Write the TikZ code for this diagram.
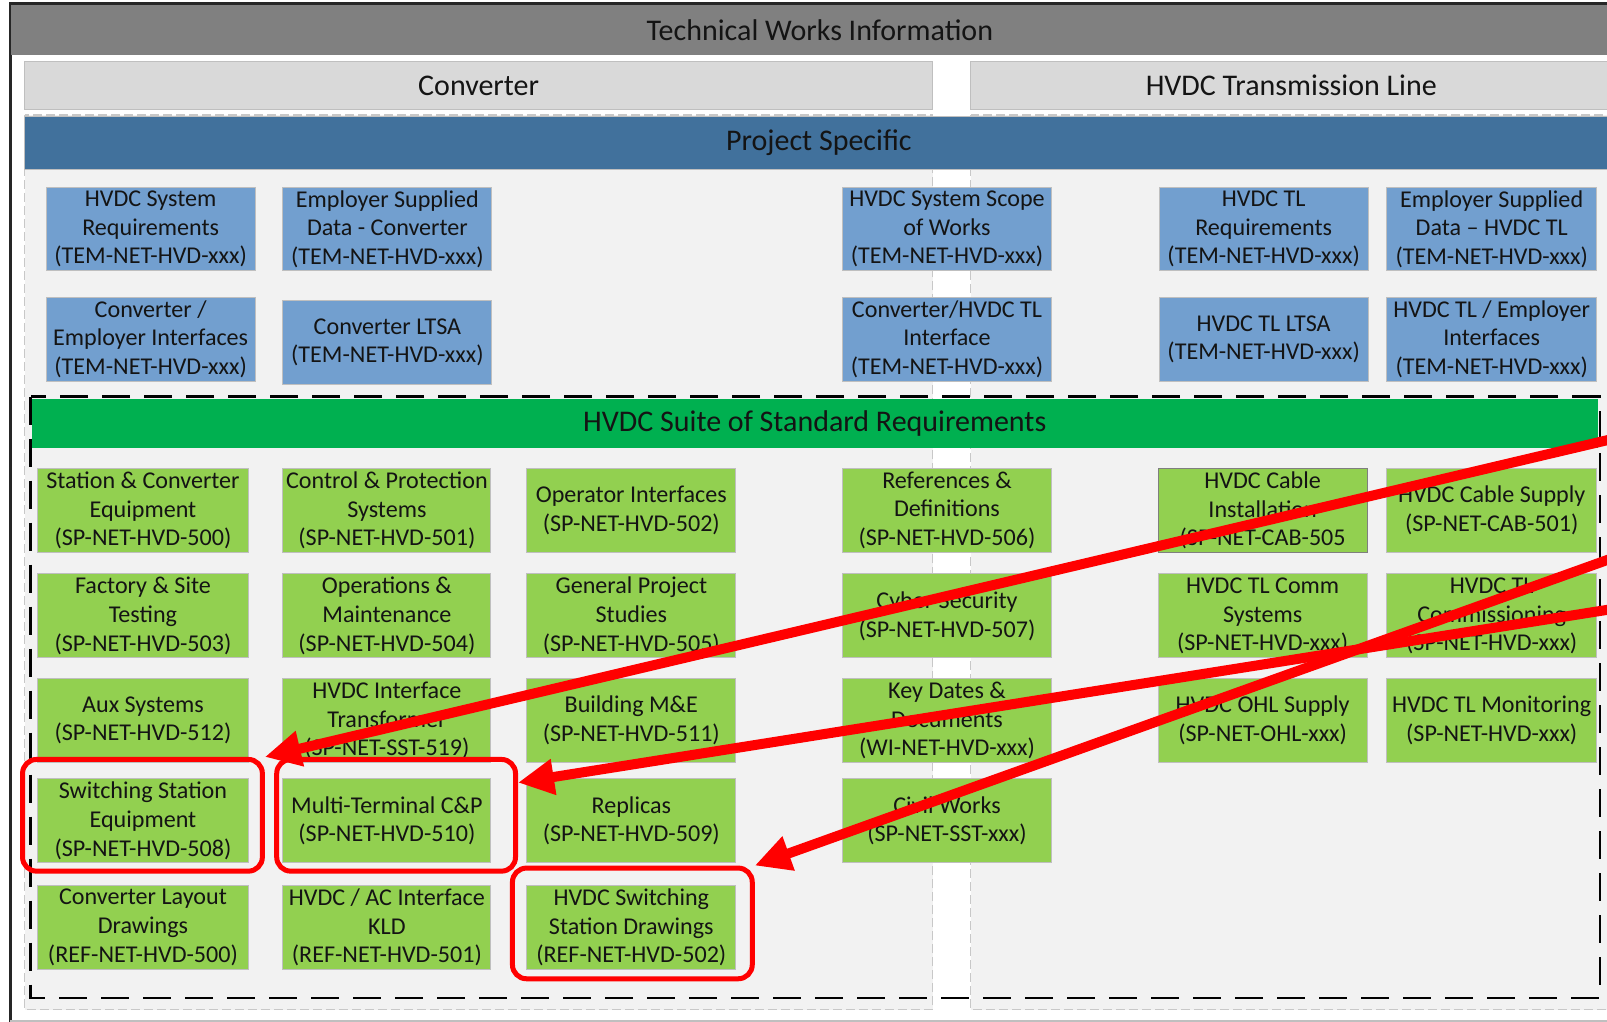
\documentclass[tikz,border=0pt]{standalone}
\usepackage{fontspec}
\setmainfont{Carlito}
\usetikzlibrary{arrows.meta,calc}

\definecolor{framecol}{HTML}{262626}
\definecolor{tbgray}{HTML}{808080}
\definecolor{hdrgray}{HTML}{D9D9D9}
\definecolor{panelgray}{HTML}{F2F2F2}
\definecolor{paneledge}{HTML}{C8C8C8}
\definecolor{psblue}{HTML}{41719C}
\definecolor{pbox}{HTML}{729FCF}
\definecolor{suitegreen}{HTML}{00B050}
\definecolor{gbox}{HTML}{92D050}
\definecolor{boxline}{HTML}{BFBFBF}
\definecolor{darkline}{HTML}{7F7F7F}
\definecolor{txt}{HTML}{141414}
\definecolor{mark}{HTML}{FF0000}

\begin{document}
\begin{tikzpicture}[x=1.0249pt,y=-1.0249pt,
  % a node placed over the rectangle with corners (#1,#2) and (#3,#4)
  spot/.style n args={4}{at={($(#1,#2)!0.5!(#3,#4)$)},
    minimum width={(#3-#1)*1.0249pt}, minimum height={(#4-#2)*1.0249pt}},
  cell/.style={draw=boxline, line width=1pt, inner sep=0pt, align=center, text=txt,
    font={\fontsize{24.1pt}{28.7pt}\selectfont}},
  bluecell/.style={cell, fill=pbox},
  greencell/.style={cell, fill=gbox},
  band/.style={inner sep=0pt, align=center, text=txt,
    font={\fontsize{30pt}{35pt}\selectfont}},
  panel/.style={fill=panelgray, draw=paneledge, line width=1.5pt, dash pattern=on 9pt off 4pt},
  hilite/.style={draw=mark, line width=5pt, rounded corners=14pt, inner sep=0pt},
  pointer/.style={draw=mark, line width=10pt, -{Triangle[length=36pt,width=34pt]}}
]
\useasboundingbox (0,0) rectangle (1568,997);
\fill[white] (0,0) rectangle (1568,997);

% column panels
\draw[panel] (24,112) rectangle (910,985);
\draw[panel] (947,112) rectangle (1600,985);

% outer frame
\draw[framecol, line width=3pt] (1600,3) -- (10,3) -- (10,997);
\draw[boxline, line width=1.5pt] (10,996) -- (1600,996);

% title and column headers
\node[band, fill=tbgray, spot={11}{5}{1589}{54}] (title) {Technical Works Information};
\node[band, fill=hdrgray, draw=boxline, line width=0.8pt, spot={24}{60}{910}{107}] (conv) {Converter};
\node[band, fill=hdrgray, draw=boxline, line width=0.8pt, spot={947}{60}{1573}{107}] (tline) {HVDC Transmission Line};

% project specific band
\node[band, fill=psblue, draw=boxline, line width=0.8pt, spot={24}{114}{1574}{165}] (proj) {Project Specific};

% project specific documents
\node[bluecell, spot={45}{183}{249}{264}] (p1) {HVDC System\\Requirements\\(TEM-NET-HVD-xxx)};
\node[bluecell, spot={276}{183}{480}{264}] (p2) {Employer Supplied\\Data - Converter\\(TEM-NET-HVD-xxx)};
\node[bluecell, spot={45}{290}{249}{372}] (p3) {Converter /\\Employer Interfaces\\(TEM-NET-HVD-xxx)};
\node[bluecell, spot={276}{293}{480}{375}] (p4) {Converter LTSA\\(TEM-NET-HVD-xxx)};
\node[bluecell, spot={822}{183}{1026}{264}] (p5) {HVDC System Scope\\of Works\\(TEM-NET-HVD-xxx)};
\node[bluecell, spot={822}{290}{1026}{372}] (p6) {Converter/HVDC TL\\Interface\\(TEM-NET-HVD-xxx)};
\node[bluecell, spot={1131}{183}{1335}{264}] (p7) {HVDC TL\\Requirements\\(TEM-NET-HVD-xxx)};
\node[bluecell, spot={1353}{183}{1558}{264}] (p8) {Employer Supplied\\Data -- HVDC TL\\(TEM-NET-HVD-xxx)};
\node[bluecell, spot={1131}{290}{1335}{372}] (p9) {HVDC TL LTSA\\(TEM-NET-HVD-xxx)};
\node[bluecell, spot={1353}{290}{1558}{372}] (p10) {HVDC TL / Employer\\Interfaces\\(TEM-NET-HVD-xxx)};

% standard requirements suite
\node[band, fill=suitegreen, spot={31}{389}{1559}{437}] (suite) {HVDC Suite of Standard Requirements};
\draw[black, line width=2.5pt, dash pattern=on 28pt off 14pt] (30,387) rectangle (1561,974);

% row 1
\node[greencell, spot={37}{457}{242}{539}] (s500) {Station \& Converter\\Equipment\\(SP-NET-HVD-500)};
\node[greencell, spot={276}{457}{479}{539}] (s501) {Control \& Protection\\Systems\\(SP-NET-HVD-501)};
\node[greencell, spot={514}{457}{718}{539}] (s502) {Operator Interfaces\\(SP-NET-HVD-502)};
\node[greencell, spot={822}{457}{1026}{539}] (s506) {References \&\\Definitions\\(SP-NET-HVD-506)};
\node[greencell, draw=darkline, spot={1130}{457}{1334}{539}] (c505) {HVDC Cable\\Installation\\(SP-NET-CAB-505};
\node[greencell, spot={1353}{457}{1558}{539}] (c501) {HVDC Cable Supply\\(SP-NET-CAB-501)};
% row 2
\node[greencell, spot={37}{560}{242}{642}] (s503) {Factory \& Site\\Testing\\(SP-NET-HVD-503)};
\node[greencell, spot={276}{560}{479}{642}] (s504) {Operations \&\\Maintenance\\(SP-NET-HVD-504)};
\node[greencell, spot={514}{560}{718}{642}] (s505) {General Project\\Studies\\(SP-NET-HVD-505)};
\node[greencell, spot={822}{560}{1026}{642}] (s507) {Cyber Security\\(SP-NET-HVD-507)};
\node[greencell, spot={1130}{560}{1334}{642}] (tcomm) {HVDC TL Comm\\Systems\\(SP-NET-HVD-xxx)};
\node[greencell, spot={1353}{560}{1558}{642}] (tcom) {HVDC TL\\Commissioning\\(SP-NET-HVD-xxx)};
% row 3
\node[greencell, spot={37}{662}{242}{744}] (s512) {Aux Systems\\(SP-NET-HVD-512)};
\node[greencell, spot={276}{662}{479}{744}] (t519) {HVDC Interface\\Transformer\\(SP-NET-SST-519)};
\node[greencell, spot={514}{662}{718}{744}] (s511) {Building M\&E\\(SP-NET-HVD-511)};
\node[greencell, spot={822}{662}{1026}{744}] (wi) {Key Dates \&\\Documents\\(WI-NET-HVD-xxx)};
\node[greencell, spot={1130}{662}{1334}{744}] (ohl) {HVDC OHL Supply\\(SP-NET-OHL-xxx)};
\node[greencell, spot={1353}{662}{1558}{744}] (tmon) {HVDC TL Monitoring\\(SP-NET-HVD-xxx)};
% row 4
\node[greencell, spot={37}{760}{242}{842}] (s508) {Switching Station\\Equipment\\(SP-NET-HVD-508)};
\node[greencell, spot={276}{760}{479}{842}] (s510) {Multi-Terminal C\&P\\(SP-NET-HVD-510)};
\node[greencell, spot={514}{760}{718}{842}] (s509) {Replicas\\(SP-NET-HVD-509)};
\node[greencell, spot={822}{760}{1026}{842}] (civ) {Civil Works\\(SP-NET-SST-xxx)};
% row 5
\node[greencell, spot={37}{864}{242}{946}] (r500) {Converter Layout\\Drawings\\(REF-NET-HVD-500)};
\node[greencell, spot={276}{864}{479}{946}] (r501) {HVDC / AC Interface\\KLD\\(REF-NET-HVD-501)};
\node[greencell, spot={514}{864}{718}{946}] (r502) {HVDC Switching\\Station Drawings\\(REF-NET-HVD-502)};

% red highlight frames
\node[hilite, spot={22}{741}{256}{850}] (hl1) {};
\node[hilite, spot={270}{741}{503}{850}] (hl2) {};
\node[hilite, spot={500}{847}{734}{955}] (hl3) {};

% red pointers coming in from the right
\coordinate (src1) at (1600,422);
\coordinate (src2) at (1600,535);
\coordinate (src3) at (1600,590);
\draw[pointer] (src1) -- (hl1.north east);
\draw[pointer] (src2) -- (hl3.north east);
\draw[pointer] (src3) -- ($(hl2.north east)!0.22!(hl2.south east)$);
\end{tikzpicture}
\end{document}
